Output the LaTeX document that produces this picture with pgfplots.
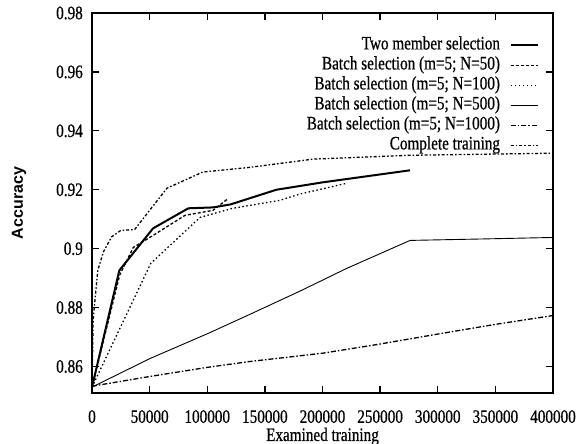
\documentclass[border=0pt]{standalone}
\usepackage{fontspec}
\setmainfont{Liberation Serif}[FakeStretch=0.8, FakeBold=0.6]
\newfontfamily\labelsans{Liberation Sans}
\usepackage{pgfplots}
\pgfplotsset{compat=1.18}

\pgfplotstableread{
x y
0 0.853
23700 0.8926
53000 0.9069
83600 0.9137
105000 0.9140
120000 0.9150
160000 0.9200
200000 0.9225
276000 0.9266
}\twomember

\pgfplotstableread{
x y
0 0.853
24000 0.8910
35800 0.9004
53000 0.9045
80700 0.9113
105000 0.9130
118000 0.9170
}\nfifty

\pgfplotstableread{
x y
0 0.853
51000 0.8950
93700 0.9106
122000 0.9137
163000 0.9164
180000 0.9185
221000 0.9222
}\nhundred

\pgfplotstableread{
x y
0 0.853
50300 0.8627
100600 0.8712
137000 0.8777
180000 0.8855
221000 0.8933
276000 0.9028
340000 0.9033
400000 0.9038
}\nfivehundred

\pgfplotstableread{
x y
0 0.8533
50000 0.8566
100000 0.8597
137000 0.8617
200000 0.8645
248000 0.8675
300000 0.8710
350000 0.8743
400000 0.8773
}\nthousand

\pgfplotstableread{
x y
0 0.853
1000 0.8760
5000 0.8926
10000 0.8990
17000 0.9040
25000 0.9062
37000 0.9065
65000 0.9205
96000 0.9260
137000 0.9276
192000 0.9304
276000 0.9317
400000 0.9324
}\complete

\begin{document}
\begin{tikzpicture}
\begin{axis}[
  scale only axis, width=461pt, height=380pt,
  xmin=0, xmax=400000, ymin=0.851, ymax=0.98,
  xtick={0,50000,100000,150000,200000,250000,300000,350000,400000},
  ytick={0.86,0.88,0.9,0.92,0.94,0.96,0.98},
  scaled x ticks=false, scaled y ticks=false,
  tick align=inside, major tick length=7pt,
  axis line style={line width=1.6pt},
  every tick/.style={black, line width=1.3pt},
  /pgf/number format/assume math mode=true,
  x tick label style={/pgf/number format/fixed, /pgf/number format/precision=0, /pgf/number format/set thousands separator={}},
  y tick label style={/pgf/number format/fixed, /pgf/number format/precision=2},
  font=\fontsize{19}{22}\selectfont,
  xticklabel style={inner sep=0pt, anchor=north, yshift=-17pt},
  yticklabel style={inner sep=0pt, anchor=east, xshift=-9pt},
  xlabel={Examined training},
  xlabel style={at={(axis description cs:0.5,-0.1263)}, anchor=base, inner sep=0pt},
  ylabel={Accuracy},
  ylabel style={at={(axis description cs:-0.1584,0.5)}, anchor=center, inner sep=0pt, font=\labelsans\bfseries\fontsize{16}{18}\selectfont},
  legend plot pos=right, legend cell align=right,
  legend image code/.code={\draw[#1] (0pt,0pt) -- (27pt,0pt);},
  legend style={draw=none, fill=none, at={(axis description cs:0.9696,0.937)}, anchor=north east,
    inner sep=0pt, outer sep=0pt, row sep=3.5pt, column sep=10pt,
    font=\fontsize{19}{22}\selectfont,
    nodes={inner sep=0pt, text height=12.5pt, text depth=4pt}},
]
\addplot[black, line width=2pt] table[x=x,y=y] {\twomember};
\addlegendentry{Two member selection}
\addplot[black, line width=1.3pt, dash pattern=on 3pt off 2pt] table[x=x,y=y] {\nfifty};
\addlegendentry{Batch selection (m=5; N=50)}
\addplot[black, line width=1.3pt, dash pattern=on 1.5pt off 2.5pt] table[x=x,y=y] {\nhundred};
\addlegendentry{Batch selection (m=5; N=100)}
\addplot[black, line width=0.9pt] table[x=x,y=y] {\nfivehundred};
\addlegendentry{Batch selection (m=5; N=500)}
\addplot[black, line width=1.3pt, dash pattern=on 5pt off 2pt on 1.5pt off 2pt] table[x=x,y=y] {\nthousand};
\addlegendentry{Batch selection (m=5; N=1000)}
\addplot[black, line width=1.3pt, dash pattern=on 3pt off 2pt on 1.5pt off 2pt] table[x=x,y=y] {\complete};
\addlegendentry{Complete training}
\end{axis}
\pgfresetboundingbox
\path ([shift={(-92pt,-51pt)}]current axis.south west) rectangle ([shift={(28pt,13pt)}]current axis.north east);
\end{tikzpicture}
\end{document}
